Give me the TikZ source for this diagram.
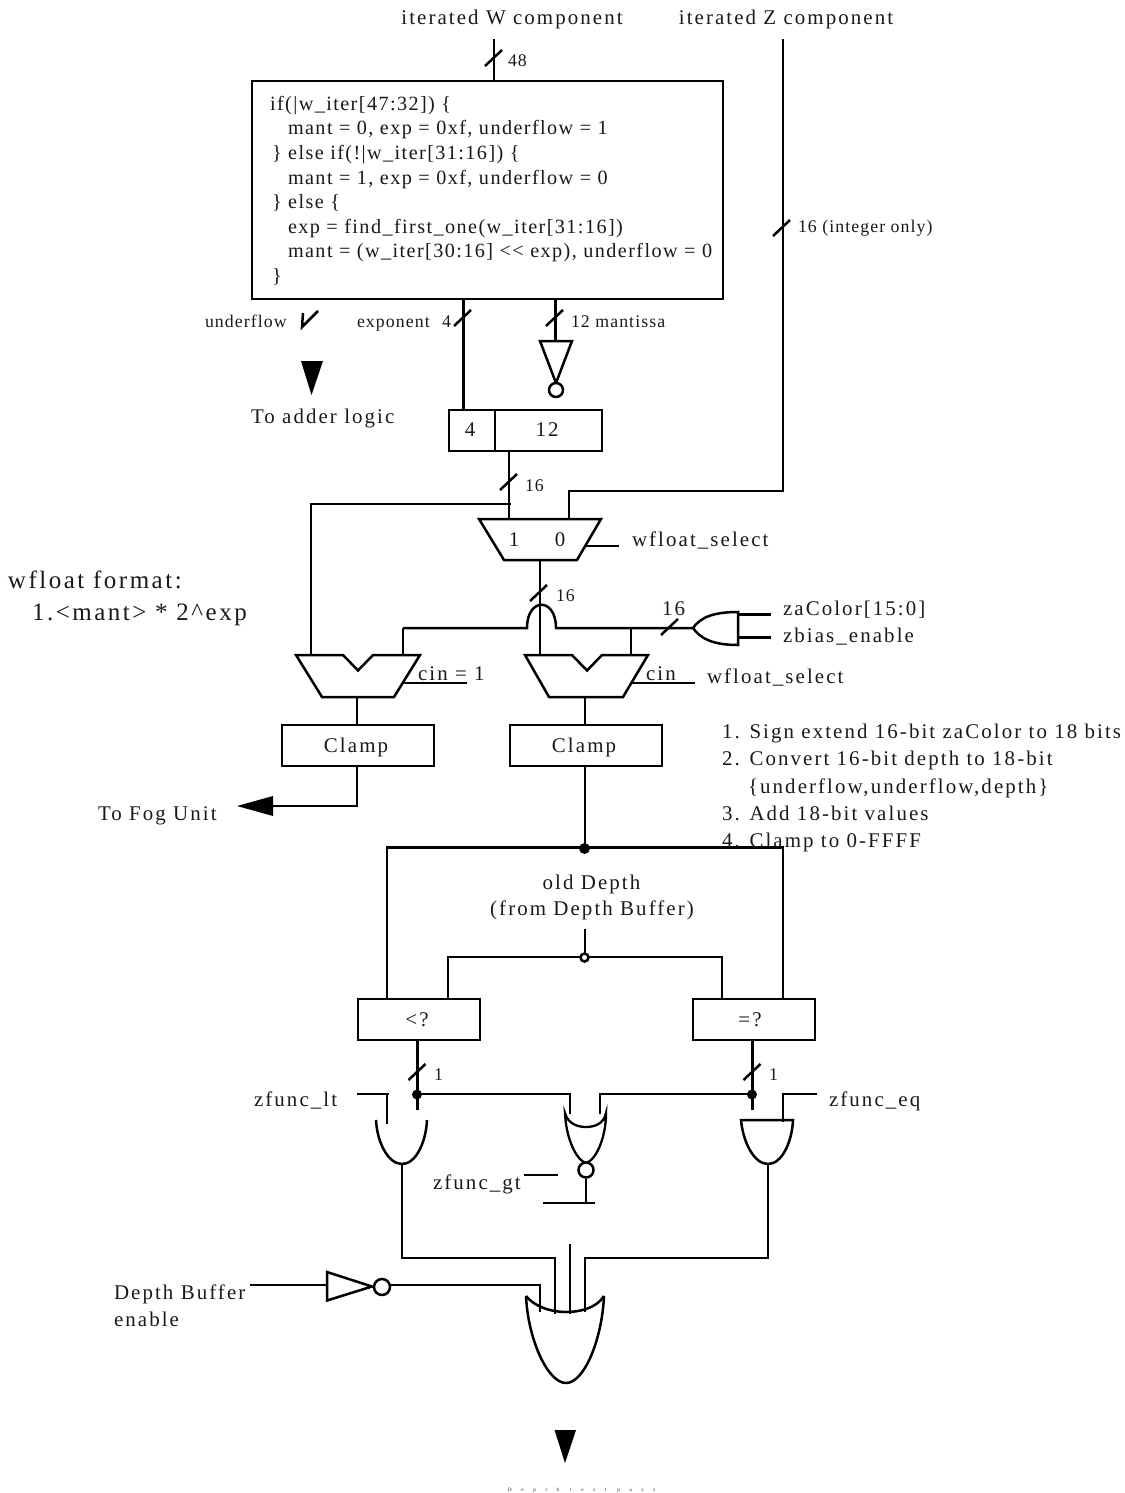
\documentclass[tikz,border=0pt]{standalone}
\usepackage{fontspec}
\usetikzlibrary{calc}
\setmainfont{Liberation Serif}
\newfontfamily\famA[LetterSpace=10]{Liberation Serif}
\newfontfamily\famB[LetterSpace=7]{Liberation Serif}
\newfontfamily\famC[LetterSpace=6]{Liberation Serif}
\newfontfamily\famT[LetterSpace=195]{Liberation Serif}
\newcommand{\fA}{\famA\fontsize{20.9}{24}\selectfont}
\newcommand{\fB}{\famB\fontsize{20.2}{22}\selectfont}
\newcommand{\fC}{\famC\fontsize{17.8}{19}\selectfont}
\newcommand{\fD}{\famA\fontsize{25}{28}\selectfont}
\newcommand{\fT}{\famT\fontsize{5}{6}\selectfont}
\newcommand{\busmark}[1]{\draw[wire] ($(#1)+(-9,8)$) -- ($(#1)+(8,-8)$);}
\tikzset{
  wire/.style={line width=2.5pt,line cap=butt},
  gate/.style={line width=2.5pt,line join=miter,fill=white},
  lab/.style={anchor=base west,inner sep=0pt,outer sep=0pt,text=black!90},
  ctr/.style={anchor=base,inner sep=0pt,outer sep=0pt,text=black!90},
  blk/.style={draw,line width=2.6pt,inner sep=0pt,outer sep=0pt,fill=white},
  dot/.style={circle,fill=black,inner sep=0pt,minimum size=#1},
  hollow/.style={circle,draw,line width=2.5pt,fill=white,inner sep=0pt,minimum size=#1},
}
\begin{document}
\begin{tikzpicture}[x=1pt,y=-1pt]
\useasboundingbox (0,0) rectangle (1124,1493);
% ---------- blocks
\node[blk,minimum width=471pt,minimum height=218pt] (wbox) at (487.5,190) {};
\node[blk,minimum width=153pt,minimum height=41pt] (cat) at (525.5,430.5) {};
\node[blk,minimum width=152pt,minimum height=41pt] (clampL) at (358,745.5) {};
\node[blk,minimum width=152pt,minimum height=41pt] (clampR) at (586,745.5) {};
\node[blk,minimum width=122pt,minimum height=41pt] (lt) at (419,1019.5) {};
\node[blk,minimum width=122pt,minimum height=41pt] (eq) at (754,1019.5) {};
% ---------- coordinates
\coordinate (wtop) at (494,39);
\coordinate (ztop) at (783,39);
\coordinate (zjoin) at (783,491);
\coordinate (zmuxa) at (569,491);
\coordinate (zmuxb) at (569,519);
\coordinate (expT) at (463.5,299);
\coordinate (expB) at (463.5,410);
\coordinate (manT) at (555.5,299);
\coordinate (manB) at (555.5,341);
\coordinate (catO) at (509,451);
\coordinate (muxIn) at (509,519);
\coordinate (branch) at (510.5,504);
\coordinate (bypass) at (311,504);
\coordinate (addLa) at (311,655);
\coordinate (muxO) at (540,560);
\coordinate (addRa) at (540,655);
\coordinate (hopL) at (527,628);
\coordinate (hopR) at (556,628);
\coordinate (bL) at (403,628);
\coordinate (addLb) at (403,655);
\coordinate (bR) at (631,628);
\coordinate (addRb) at (631,655);
\coordinate (bTip) at (693,628);
\coordinate (fog) at (357,806);
\coordinate (fogEnd) at (270,806);
\coordinate (trunk) at (585,847.5);
\coordinate (trL) at (387,847.5);
\coordinate (trR) at (783,847.5);
\coordinate (ltA) at (387,999);
\coordinate (eqA) at (783,999);
\coordinate (oldT) at (585,929);
\coordinate (oldJ) at (585,957);
\coordinate (oldL) at (448,957);
\coordinate (oldR) at (722,957);
\coordinate (ltB) at (448,999);
\coordinate (eqB) at (722,999);
\coordinate (ltJ) at (417.5,1094);
\coordinate (eqJ) at (752.5,1094);
\coordinate (ltEnd) at (417.5,1110);
\coordinate (eqEnd) at (752.5,1110);
\coordinate (norL) at (570,1094);
\coordinate (norR) at (600,1094);
\coordinate (outA) at (402,1164);
\coordinate (outAc) at (402,1258);
\coordinate (outB) at (768,1164);
\coordinate (outBc) at (768,1258);
\coordinate (inA) at (555,1258);
\coordinate (inC) at (585,1258);
\coordinate (inB) at (540,1285);
\coordinate (invOut) at (390,1285);
\coordinate (ctop) at (570,1244);
\coordinate (cbot) at (570,1314);
% ---------- connectors
\draw[wire] (wtop) -- (wtop |- wbox.north);
\draw[wire] (ztop) -- (zjoin) -- (zmuxa) -- (zmuxb);
\draw[wire] (expT) -- (expB);
\draw[wire] (manT) -- (manB);
\draw[wire] (catO) -- (muxIn);
\draw[wire] (branch) -- (bypass) -- (addLa);
\draw[wire] (muxO) -- (addRa);
\draw[wire] (bL) -- (hopL) .. controls (527,597) and (556,597) .. (hopR) -- (bTip);
\draw[wire] (bL) -- (addLb);
\draw[wire] (bR) -- (addRb);
\draw[wire] (fog |- clampL.south) -- (fog) -- (fogEnd);
\draw[wire] (clampR.south -| trunk) -- (trunk);
\draw[wire] (ltA) -- (trL) -- (trR) -- (eqA);
\draw[wire] (oldT) -- (oldJ);
\draw[wire] (ltB) -- (oldL) -- (oldR) -- (eqB);
\draw[wire] (ltJ |- lt.south) -- (ltEnd);
\draw[wire] (eqJ |- eq.south) -- (eqEnd);
\draw[wire] (ltJ) -- (norL) -- ++(0,20);
\draw[wire] (eqJ) -- (norR) -- ++(0,20);
\draw[wire] (outA) -- (outAc) -- (inA) -- ++(0,56);
\draw[wire] (outB) -- (outBc) -- (inC) -- ++(0,54);
\draw[wire] (ctop) -- (cbot);
% ---------- 4|12 divider
\draw[line width=2.6pt] (495,410) -- (495,451);
% ---------- bus marks
\busmark{494,58}
\busmark{782,228}
\busmark{463,318}
\busmark{555,318}
\busmark{509,482}
\busmark{539,593}
\busmark{670,627}
\busmark{417.5,1072}
\busmark{752.5,1072}
\draw[wire] (303,313) -- (302,327) -- (318,311);
% ---------- logic shapes
\draw[gate] (540,341) -- (572,341) -- (556,383) -- cycle;
\node[hollow=14pt] (invA) at (556,390) {};
\fill (301,361) -- (323,361) -- (311.5,395) -- cycle;
% mux
\draw[gate] (479,519) -- (601,519) -- (577,560) -- (504,560) -- cycle;
\draw[wire] (585,546) -- (619,546);
% adders
\draw[gate] (296,655) -- (343,655) -- (358,670.5) -- (373,655) -- (420,655) -- (394,697) -- (322,697) -- cycle;
\draw[gate] (525,655) -- (572,655) -- (587,670.5) -- (602,655) -- (648,655) -- (623,697) -- (549,697) -- cycle;
\draw[wire] (357,697) -- (fog |- clampL.north);
\draw[wire] (585,697) -- (trunk |- clampR.north);
\draw[wire] (402,683) -- (467,683);
\draw[wire] (630,683) -- (695,683);
% AND zbias
\draw[gate] (738,612) .. controls (712,612) and (700,618) .. (bTip) .. controls (700,638) and (712,645) .. (738,645) -- cycle;
\draw[wire] (738,614.5) -- (771,614.5);
\draw[wire] (738,637.5) -- (771,637.5);
% fog arrow
\fill (237,806) -- (273,796) -- (273,816) -- cycle;
% junctions
\node[dot=11pt] (jTrunk) at (584.5,848.5) {};
\node[hollow=8pt] (jOld) at (584.5,957.5) {};
\node[dot=10pt] (jLt) at (417,1094.5) {};
\node[dot=10pt] (jEq) at (752,1094.5) {};
% left gate
\draw[wire] (376,1120) .. controls (377,1142) and (388,1164) .. (402,1164) .. controls (416,1164) and (426,1142) .. (427,1120);
\draw[wire] (357,1094) -- (389,1094);
\draw[wire] (387,1094) -- (387,1124);
% NOR
\draw[gate,line width=2.3pt] (565,1113) .. controls (568,1124) and (578,1127) .. (586,1127) .. controls (594,1127) and (604,1124) .. (606,1113) .. controls (606,1138) and (596,1160) .. (586,1163) .. controls (576,1160) and (566,1138) .. (565,1113) -- cycle;
\node[hollow=15pt] (bubNor) at (586,1170) {};
\draw[wire] (bubNor.south) -- (586,1203);
\draw[wire] (543,1203) -- (595,1203);
\draw[wire] (524,1175) -- (558,1175);
% right gate
\draw[gate,fill=none] (741,1120) -- (793,1120) .. controls (792,1142) and (782,1164) .. (768,1164) .. controls (754,1164) and (743,1142) .. (741,1120) -- cycle;
\draw[wire] (783,1122) -- (783,1094) -- (817,1094);
% inverter
\draw[wire] (250,1285) -- (329,1285);
\draw[gate] (327,1272) -- (372,1286.5) -- (327,1300.5) -- cycle;
\node[hollow=16pt] (bubInv) at (382,1287) {};
\draw[wire] (invOut) -- (inB) -- ++(0,27);
% big OR
\draw[wire] (526,1296) .. controls (537,1309) and (555,1312) .. (566,1312) .. controls (578,1312) and (596,1309) .. (604,1296);
\draw[wire] (526,1296) .. controls (528,1340) and (548,1383) .. (566,1383) .. controls (584,1383) and (602,1340) .. (604,1296);
\fill (554.5,1430) -- (576,1430) -- (565,1463) -- cycle;
% ---------- text
\node[ctr,font=\fA] (tW) at (512,25) {iterated W component};
\node[ctr,font=\fA] (tZ) at (786,25) {iterated Z component};
\node[lab,font=\fC] (t48) at (508,67) {48};
\node[lab,font=\fC] (tInt) at (798,232) {16 (integer only)};
\node[lab,font=\fB] (c1) at (270,110.5) {if(|w\_iter[47:32]) \{};
\node[lab,font=\fB] (c2) at (288,135) {mant = 0, exp = 0xf, underflow = 1};
\node[lab,font=\fB] (c3) at (272,159.5) {\} else if(!|w\_iter[31:16]) \{};
\node[lab,font=\fB] (c4) at (288,184) {mant = 1, exp = 0xf, underflow = 0};
\node[lab,font=\fB] (c5) at (272,208.5) {\} else \{};
\node[lab,font=\fB] (c6) at (288,233) {exp = find\_first\_one(w\_iter[31:16])};
\node[lab,font=\fB] (c7) at (288,257.5) {mant = (w\_iter[30:16] << exp), underflow = 0};
\node[lab,font=\fB] (c8) at (272,282) {\}};
\node[lab,font=\fC] (tUnd) at (205,327) {underflow};
\node[lab,font=\fC] (tExp) at (357,327) {exponent};
\node[lab,font=\fC] (tE4) at (442,327) {4};
\node[lab,font=\fC] (tMan) at (571,327) {12 mantissa};
\node[lab,font=\fA] (tAdd) at (251,423) {To adder logic};
\node[ctr,font=\fA] (t4) at (470,436) {4};
\node[ctr,font=\fA] (t12) at (547,436) {12};
\node[lab,font=\fC] (t16a) at (525,491) {16};
\node[ctr,font=\fA] (m1) at (514,546) {1};
\node[ctr,font=\fA] (m0) at (560,546) {0};
\node[lab,font=\fA] (tSel1) at (632,546) {wfloat\_select};
\node[lab,font=\fC] (t16b) at (556,601) {16};
\node[lab,font=\fA] (t16c) at (662,615) {16};
\node[lab,font=\fA] (tZa) at (783,615) {zaColor[15:0]};
\node[lab,font=\fA] (tZb) at (783,642) {zbias\_enable};
\node[lab,font=\fD] (tFmt) at (8,588) {wfloat format:};
\node[lab,font=\fD] (tMant) at (32,620) {1.<mant> * 2\textasciicircum exp};
\node[lab,font=\fA] (tC1) at (418,680) {cin = 1};
\node[lab,font=\fA] (tC2) at (646,680) {cin};
\node[lab,font=\fA] (tSel2) at (707,683) {wfloat\_select};
\node[ctr,font=\fA] (tClL) at (356,752) {Clamp};
\node[ctr,font=\fA] (tClR) at (584,752) {Clamp};
\node[lab,font=\fA] (n1) at (722,738) {1. Sign extend 16-bit zaColor to 18 bits};
\node[lab,font=\fA] (n2) at (722,765) {2. Convert 16-bit depth to 18-bit};
\node[lab,font=\fA] (n2b) at (748,793) {\{underflow,underflow,depth\}};
\node[lab,font=\fA] (n3) at (722,820) {3. Add 18-bit values};
\node[lab,font=\fA] (n4) at (722,847) {4. Clamp to 0-FFFF};
\node[lab,font=\fA] (tFog) at (98,820) {To Fog Unit};
\node[ctr,font=\fA] (tOld) at (591.5,889) {old Depth};
\node[ctr,font=\fA] (tOld2) at (592,915) {(from Depth Buffer)};
\node[ctr,font=\fA] (tLt) at (417,1026) {<?};
\node[ctr,font=\fA] (tEq) at (750,1026) {=?};
\node[lab,font=\fC] (t1a) at (434,1080) {1};
\node[lab,font=\fC] (t1b) at (769,1080) {1};
\node[lab,font=\fA] (tFl) at (254,1106) {zfunc\_lt};
\node[lab,font=\fA] (tFg) at (433,1189) {zfunc\_gt};
\node[lab,font=\fA] (tFe) at (829,1106) {zfunc\_eq};
\node[lab,font=\fA] (tDb) at (114,1299) {Depth Buffer};
\node[lab,font=\fA] (tEn) at (114,1326) {enable};
\node[lab,font=\fT] (tPass) at (508,1491) {Depth test pass};
\end{tikzpicture}
\end{document}
